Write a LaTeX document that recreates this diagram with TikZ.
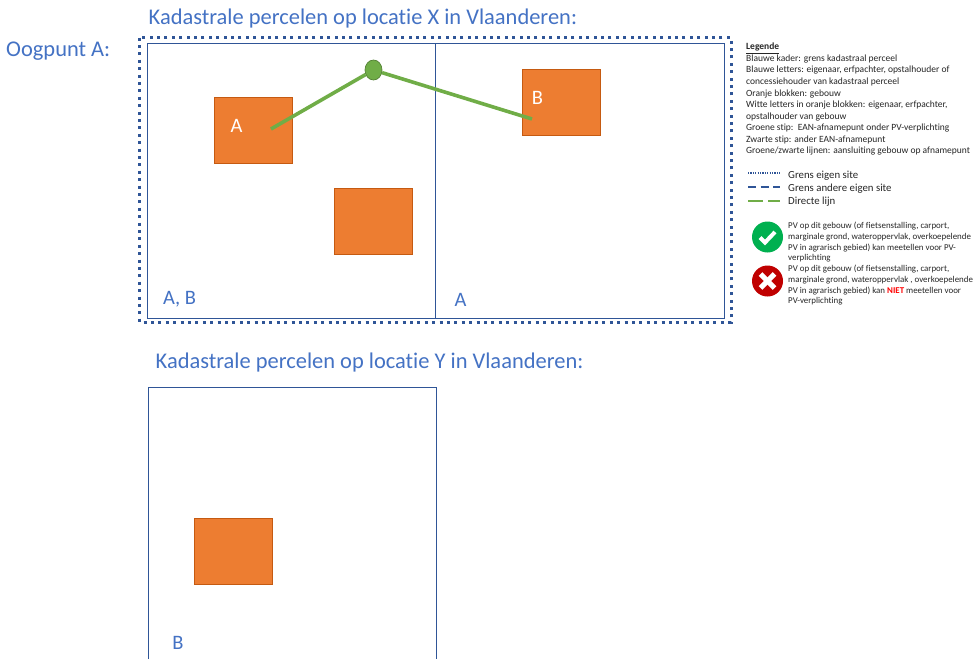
\documentclass[tikz,border=0pt]{standalone}
\usepackage{fontspec}
\usetikzlibrary{shapes.geometric}
\setmainfont{Carlito}[RawFeature=-liga]
\definecolor{bluetxt}{HTML}{4472C4}
\definecolor{frameblue}{HTML}{2F5597}
\definecolor{orangeblk}{HTML}{ED7D31}
\definecolor{orangeedge}{HTML}{C55A11}
\definecolor{greenln}{HTML}{70AD47}
\definecolor{greenedge}{HTML}{548235}
\definecolor{okgreen}{HTML}{00B050}
\definecolor{nored}{HTML}{C00000}
\definecolor{legtxt}{HTML}{262626}
\tikzset{
  title/.style={anchor=west,inner sep=0pt,text=bluetxt,font=\fontsize{22.45}{26}\selectfont},
  owner/.style={anchor=center,inner sep=0pt,text=bluetxt,font=\fontsize{20.5}{24}\selectfont},
  parcel/.style={draw=frameblue,line width=0.9pt},
  building/.style={draw=orangeedge,fill=orangeblk,line width=0.6pt,anchor=north west,inner sep=0pt,minimum width=78pt,minimum height=65.5pt},
  bldtext/.style={anchor=center,inner sep=0pt,text=white,font=\fontsize{20.5}{24}\selectfont},
  legend/.style={anchor=north west,inner sep=0pt,align=left,text=legtxt,font=\fontsize{9.5}{11.55}\selectfont},
  legsmall/.style={anchor=north west,inner sep=0pt,align=left,text=legtxt,font=\fontsize{8.9}{10.7}\selectfont},
  legitem/.style={anchor=west,inner sep=0pt,text=legtxt,font=\fontsize{10.8}{12}\selectfont},
  conn/.style={draw=greenln,line width=3.6pt},
  sign/.style={circle,minimum size=31pt,inner sep=0pt},
}
\begin{document}
\begin{tikzpicture}[x=1pt,y=-1pt]
\useasboundingbox (0,0) rectangle (975,659);
\fill[white] (0,0) rectangle (975,659);
% titles
\node[title] (t1) at (148.5,19) {Kadastrale percelen op locatie X in Vlaanderen:};
\node[title] (t0) at (6,51) {Oogpunt A:};
\node[title] (t2) at (155.5,363) {Kadastrale percelen op locatie Y in Vlaanderen:};
% site frame
\draw[draw=frameblue,line width=3pt,dash pattern=on 3pt off 4.4pt] (139.5,37.5) rectangle (731,322);
% parcels
\draw[parcel] (147.5,43.5) rectangle (724,318);
\draw[parcel] (435.5,43.5) -- (435.5,318);
\draw[parcel] (148.5,659) -- (148.5,387.5) -- (436.5,387.5) -- (436.5,659);
% buildings
\node[building] (ba) at (213.8,97) {};
\node[building] (bb) at (521.8,69) {};
\node[building] (bc) at (333.8,188) {};
\node[building] (bd) at (193.8,518) {};
\node[bldtext] (la) at (236.5,126) {A};
\node[bldtext] (lb) at (537.5,98) {B};
% connection
\coordinate (ea) at (271,129);
\coordinate (eb) at (532,119);
\node[ellipse,draw=greenedge,fill=greenln,line width=0.7pt,minimum width=17pt,minimum height=20pt,inner sep=0pt] (ean) at (373.5,70) {};
\draw[conn] (ea) -- (ean);
\draw[conn] (ean) -- (eb);
% owners
\node[owner] (o1) at (179.5,299.5) {A, B};
\node[owner] (o2) at (460.5,299.5) {A};
\node[owner] (o3) at (178,643) {B};
% legend
\node[legend] (leg) at (746,43) {\textbf{\underline{Legende}}\\
Blauwe kader: grens kadastraal perceel\\
Blauwe letters: eigenaar, erfpachter, opstalhouder of\\
concessiehouder van kadastraal perceel\\
Oranje blokken: gebouw\\
Witte letters in oranje blokken: eigenaar, erfpachter,\\
opstalhouder van gebouw\\
Groene stip:\ \ EAN-afnamepunt onder PV-verplichting\\
Zwarte stip: ander EAN-afnamepunt\\
Groene/zwarte lijnen: aansluiting gebouw op afnamepunt};
% line key
\coordinate (k1a) at (748,173); \coordinate (k1b) at (780,173);
\coordinate (k2a) at (748,187); \coordinate (k2b) at (780,187);
\coordinate (k3a) at (748,201); \coordinate (k3b) at (780,201);
\draw[frameblue,line width=1.3pt,dash pattern=on 1.2pt off 1.2pt] (k1a) -- (k1b);
\draw[frameblue,line width=1.3pt,dash pattern=on 8pt off 4.5pt] (k2a) -- (k2b);
\draw[greenln,line width=1.3pt,dash pattern=on 15pt off 5pt] (k3a) -- (k3b);
\node[legitem] (i1) at (788,176) {Grens eigen site};
\node[legitem] (i2) at (788,189) {Grens andere eigen site};
\node[legitem] (i3) at (788,202) {Directe lijn};
% signs
\node[sign,fill=okgreen] (ok) at (767.5,237) {};
\draw[white,line width=4pt] (760,237.5) -- (765,242.5) -- (775,232);
\node[sign,fill=nored] (no) at (767.5,281) {};
\draw[white,line width=5pt] (760.5,274) -- (774.5,288);
\draw[white,line width=5pt] (774.5,274) -- (760.5,288);
\node[legsmall] (tok) at (788,222) {PV op dit gebouw (of fietsenstalling, carport,\\
marginale grond, wateroppervlak, overkoepelende\\
PV in agrarisch gebied) kan meetellen voor PV-\\
verplichting};
\node[legsmall] (tno) at (788,265) {PV op dit gebouw (of fietsenstalling, carport,\\
marginale grond, wateroppervlak , overkoepelende\\
PV in agrarisch gebied) kan \textbf{\textcolor{red}{NIET}} meetellen voor\\
PV-verplichting};
\end{tikzpicture}
\end{document}
